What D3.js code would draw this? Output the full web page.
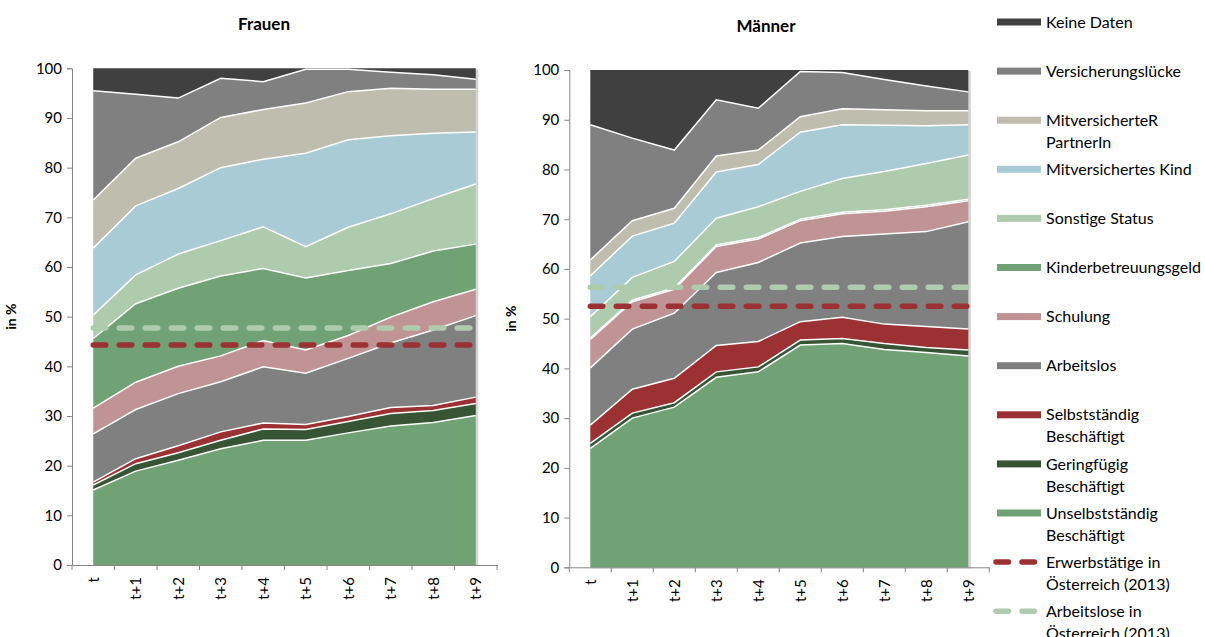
<!DOCTYPE html>
<html>
<head>
<meta charset="utf-8">
<script src="https://cdn.jsdelivr.net/npm/d3@7"></script>
<style>
  body { margin: 0; background: #fff; }
  text { font-family: Lato, "Open Sans", sans-serif; fill: #000; }
</style>
</head>
<body>
<svg id="chart" width="1205" height="637"></svg>
<script>
// categories (years after event)
var categories = ["t", "t+1", "t+2", "t+3", "t+4", "t+5", "t+6", "t+7", "t+8", "t+9"];
var yTicks = [0, 10, 20, 30, 40, 50, 60, 70, 80, 90, 100];

// series names, bottom to top
var seriesNames = ["Unselbstständig Beschäftigt", "Geringfügig Beschäftigt", "Selbstständig Beschäftigt",
  "Arbeitslos", "Schulung", "Kinderbetreuungsgeld", "Sonstige Status", "Mitversichertes Kind",
  "MitversicherteR PartnerIn", "Versicherungslücke", "Keine Daten"];
var seriesColors = ["#70a275", "#375535", "#9b3133", "#808080", "#c09494", "#70a275",
  "#afcbad", "#a8cbd6", "#bfbdad", "#808080", "#404040"];

// Frauen, share in % per status
var fUnselbst   = [15.1, 18.9, 21.1, 23.4, 25.1, 25.1, 26.6, 28.0, 28.7, 30.1];
var fGering     = [1.0, 1.5, 1.5, 1.7, 2.3, 2.2, 2.3, 2.5, 2.4, 2.4];
var fSelbst     = [0.6, 1.0, 1.4, 1.7, 1.2, 1.0, 1.0, 1.2, 1.0, 1.3];
var fArbeitslos = [9.7, 9.9, 10.5, 10.1, 11.3, 10.3, 11.7, 13.0, 15.2, 16.4];
var fSchulung   = [5.2, 5.5, 5.5, 5.2, 5.3, 4.7, 4.6, 5.2, 5.7, 5.3];
var fKinder     = [14.0, 15.8, 15.7, 16.1, 14.5, 14.5, 13.1, 10.8, 10.2, 9.1];
var fSonstige   = [4.7, 5.8, 6.9, 7.1, 8.4, 6.3, 8.7, 10.0, 10.6, 12.1];
var fKind       = [13.5, 13.9, 13.2, 14.7, 13.6, 18.8, 17.6, 15.7, 13.1, 10.5];
var fPartner    = [9.7, 9.6, 9.4, 10.1, 10.0, 10.1, 9.7, 9.6, 8.9, 8.6];
var fLuecke     = [22.0, 12.9, 8.8, 7.9, 5.6, 6.8, 4.5, 3.2, 2.9, 2.0];
var fKeine      = [4.5, 5.2, 6.0, 2.0, 2.7, 0.2, 0.2, 0.8, 1.3, 2.2];

// Männer
var mUnselbst   = [23.9, 30.0, 32.2, 38.2, 39.3, 44.7, 45.0, 43.8, 43.2, 42.5];
var mGering     = [1.0, 1.0, 0.9, 1.1, 1.0, 1.0, 1.0, 1.2, 1.0, 1.2];
var mSelbst     = [3.7, 4.8, 4.9, 5.3, 5.1, 3.7, 4.3, 3.9, 4.2, 4.2];
var mArbeitslos = [11.5, 12.1, 13.1, 14.7, 15.9, 15.8, 16.2, 18.1, 19.1, 21.6];
var mSchulung   = [5.7, 5.5, 4.8, 5.2, 4.7, 4.5, 4.6, 4.6, 5.0, 4.2];
var mKinder     = [0.3, 0.3, 0.3, 0.3, 0.3, 0.3, 0.3, 0.3, 0.3, 0.3];
var mSonstige   = [4.3, 4.6, 5.3, 5.4, 6.2, 5.6, 6.8, 7.7, 8.4, 8.9];
var mKind       = [8.2, 8.3, 7.7, 9.3, 8.5, 11.9, 10.8, 9.3, 7.6, 6.1];
var mPartner    = [3.2, 3.1, 3.0, 3.2, 2.9, 3.1, 3.2, 3.1, 3.0, 2.8];
var mLuecke     = [27.2, 16.6, 11.7, 11.3, 8.4, 9.1, 7.3, 6.1, 5.0, 3.8];
var mKeine      = [11.0, 13.7, 16.1, 6.0, 7.7, 0.3, 0.5, 1.9, 3.2, 4.4];

// reference lines (Österreich 2013)
var refNames  = ["Erwerbstätige in Österreich (2013)", "Arbeitslose in Österreich (2013)"];
var refColors = ["#9b3133", "#afcbad"];
var fRef = [44.3, 47.7];
var mRef = [52.5, 56.3];

var svg = d3.select("#chart");

function drawPanel(title, layers, refs, left, right, top, bottom, labelX, titleX) {
    var x = d3.scaleBand().domain(categories).range([left, right]);
    var y = d3.scaleLinear().domain([0, 100]).range([bottom, top]);
    var cx = function (c) { return x(c) + x.bandwidth() / 2; };

    var rows = categories.map(function (c, i) {
        var r = { cat: c };
        seriesNames.forEach(function (n, k) { r[n] = layers[k][i]; });
        return r;
    });
    var stacked = d3.stack().keys(seriesNames)(rows);

    var g = svg.append("g");

    // soft shadow behind plot
    g.append("rect")
        .attr("x", cx(categories[0]) + 1)
        .attr("y", y(100) + 1)
        .attr("width", cx(categories[9]) - cx(categories[0]) + 1.5)
        .attr("height", y(0) - y(100))
        .attr("fill", "#d4d4d4");

    var area = d3.area()
        .x(function (d) { return cx(d.data.cat); })
        .y0(function (d) { return y(d[0]); })
        .y1(function (d) { return y(d[1]); });
    var topLine = d3.line()
        .x(function (d) { return cx(d.data.cat); })
        .y(function (d) { return y(d[1]); });

    g.selectAll("path.layer").data(stacked).enter().append("path")
        .attr("class", "layer")
        .attr("d", area)
        .attr("fill", function (d, i) { return seriesColors[i]; });
    g.selectAll("path.edge").data(stacked.slice(0, -1)).enter().append("path")
        .attr("class", "edge")
        .attr("d", topLine)
        .attr("fill", "none")
        .attr("stroke", "#fff")
        .attr("stroke-width", 1.5);

    // reference lines
    refs.forEach(function (v, k) {
        g.append("path")
            .attr("d", d3.line()(categories.map(function (c) { return [cx(c), y(v)]; })))
            .attr("fill", "none")
            .attr("stroke", refColors[k])
            .attr("stroke-width", 5.5)
            .attr("stroke-linecap", "round")
            .attr("stroke-dasharray", "12.5 13.5");
    });

    // axes
    var ya = g.append("g")
        .attr("transform", "translate(" + left + ",0)")
        .call(d3.axisLeft(y).tickValues(yTicks).tickSize(5).tickPadding(5));
    var xa = g.append("g")
        .attr("transform", "translate(0," + bottom + ")")
        .call(d3.axisBottom(x).tickSize(0).tickPadding(12));
    [ya, xa].forEach(function (a) {
        a.select(".domain").attr("stroke", "#868686");
        a.selectAll("line").attr("stroke", "#868686");
        a.selectAll("text").style("font-size", "15px").attr("fill", "#000");
    });
    xa.selectAll("text")
        .attr("transform", "rotate(-90)")
        .attr("text-anchor", "end")
        .attr("dy", "0.35em")
        .attr("x", -12)
        .attr("y", 0);
    // category tick marks between bands
    xa.selectAll("line.sep").data(d3.range(categories.length + 1)).enter().append("line")
        .attr("class", "sep")
        .attr("x1", function (i) { return left + i * x.step(); })
        .attr("x2", function (i) { return left + i * x.step(); })
        .attr("y1", 0).attr("y2", 5)
        .attr("stroke", "#868686");

    svg.append("text")
        .attr("x", titleX)
        .attr("y", top - 38)
        .attr("text-anchor", "middle")
        .style("font-size", "17px")
        .style("font-weight", "bold")
        .text(title);

    svg.append("text")
        .attr("transform", "translate(" + labelX + "," + ((top + bottom) / 2) + ") rotate(-90)")
        .attr("text-anchor", "middle")
        .style("font-size", "14px")
        .style("font-weight", "bold")
        .text("in %");
}

drawPanel("Frauen",
    [fUnselbst, fGering, fSelbst, fArbeitslos, fSchulung, fKinder, fSonstige, fKind, fPartner, fLuecke, fKeine],
    fRef, 72, 497, 68.3, 565, 16, 264);
drawPanel("Männer",
    [mUnselbst, mGering, mSelbst, mArbeitslos, mSchulung, mKinder, mSonstige, mKind, mPartner, mLuecke, mKeine],
    mRef, 569.3, 989.3, 70, 567.3, 516, 766);

// legend, top to bottom
var legendItems = [];
for (var i = seriesNames.length - 1; i >= 0; i--) {
    legendItems.push({ name: seriesNames[i], color: seriesColors[i], dashed: false });
}
refNames.forEach(function (n, k) { legendItems.push({ name: n, color: refColors[k], dashed: true }); });

var wrapAt = { "MitversicherteR PartnerIn": ["MitversicherteR", "PartnerIn"],
    "Selbstständig Beschäftigt": ["Selbstständig", "Beschäftigt"],
    "Geringfügig Beschäftigt": ["Geringfügig", "Beschäftigt"],
    "Unselbstständig Beschäftigt": ["Unselbstständig", "Beschäftigt"],
    "Erwerbstätige in Österreich (2013)": ["Erwerbstätige in", "Österreich (2013)"],
    "Arbeitslose in Österreich (2013)": ["Arbeitslose in", "Österreich (2013)"] };

var legend = svg.append("g");
legendItems.forEach(function (d, i) {
    var ly = 22 + i * 49.1;
    if (d.dashed) {
        legend.append("line")
            .attr("x1", 996).attr("x2", 1040).attr("y1", ly).attr("y2", ly)
            .attr("stroke", d.color).attr("stroke-width", 5.5)
            .attr("stroke-linecap", "round")
            .attr("stroke-dasharray", "12.5 13.5");
    } else {
        legend.append("rect")
            .attr("x", 997).attr("y", ly - 3.5).attr("width", 44).attr("height", 7)
            .attr("fill", d.color);
    }
    var lines = wrapAt[d.name] || [d.name];
    lines.forEach(function (t, j) {
        legend.append("text")
            .attr("x", 1046).attr("y", ly + j * 22)
            .attr("dy", "0.35em")
            .style("font-size", "16px")
            .text(t);
    });
});
</script>
</body>
</html>
